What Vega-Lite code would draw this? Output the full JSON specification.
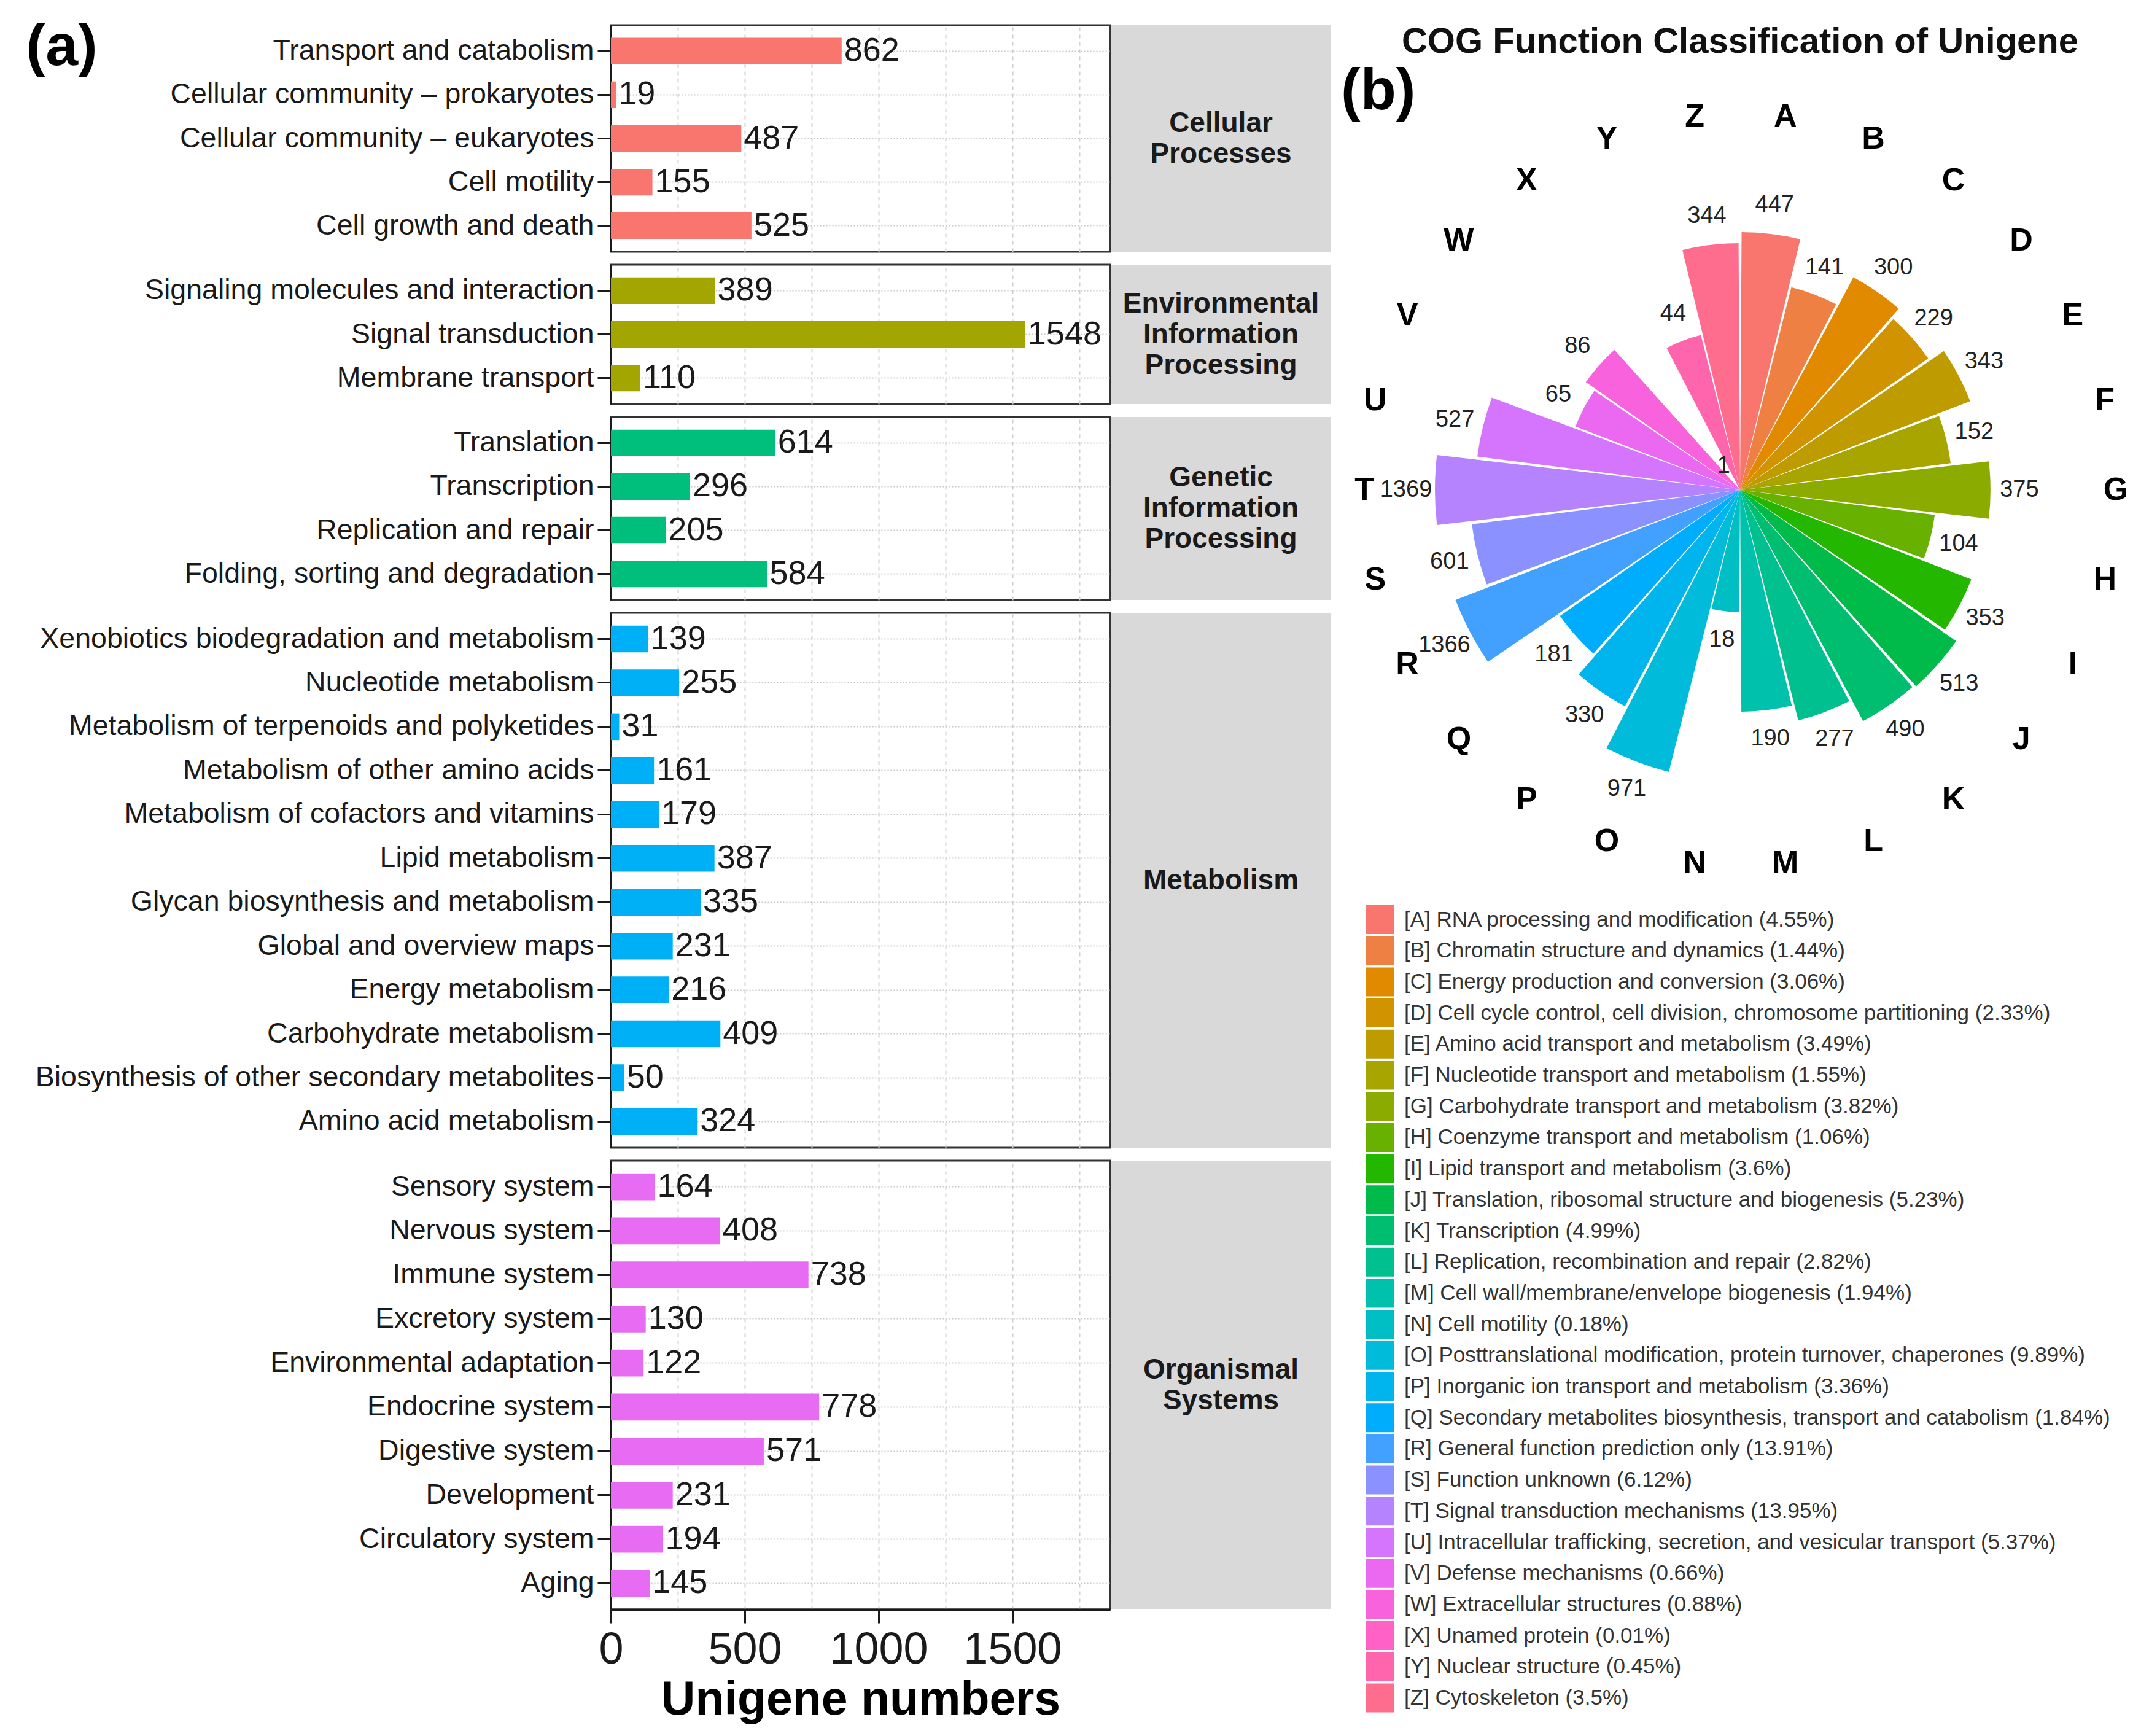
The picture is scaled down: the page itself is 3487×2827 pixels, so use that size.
{
  "$schema": "https://vega.github.io/schema/vega-lite/v6.json",
  "background": "white",
  "padding": {"left": 40, "top": 27, "right": 5, "bottom": 5},
  "config": {
    "font": "Liberation Sans",
    "view": {"stroke": "#333333", "strokeWidth": 3},
    "axisY": {"labelFontSize": 46.5, "labelColor": "#1a1a1a", "labelLimit": 1500, "labelPadding": 6, "tickSize": 22, "tickWidth": 3, "tickColor": "#1a1a1a", "domainColor": "#1a1a1a", "domainWidth": 3, "grid": true, "gridDash": [2, 3], "gridColor": "#c8c8c8", "gridWidth": 2, "bandPosition": 0.5},
    "axisX": {"grid": true, "gridDash": [6, 6], "gridColor": "#cfcfcf", "gridWidth": 2}
  },
  "datasets": {
    "kegg": [
      {"cat": "Cellular Processes", "path": "Transport and catabolism", "n": 862},
      {"cat": "Cellular Processes", "path": "Cellular community – prokaryotes", "n": 19},
      {"cat": "Cellular Processes", "path": "Cellular community – eukaryotes", "n": 487},
      {"cat": "Cellular Processes", "path": "Cell motility", "n": 155},
      {"cat": "Cellular Processes", "path": "Cell growth and death", "n": 525},
      {"cat": "Environmental Information Processing", "path": "Signaling molecules and interaction", "n": 389},
      {"cat": "Environmental Information Processing", "path": "Signal transduction", "n": 1548},
      {"cat": "Environmental Information Processing", "path": "Membrane transport", "n": 110},
      {"cat": "Genetic Information Processing", "path": "Translation", "n": 614},
      {"cat": "Genetic Information Processing", "path": "Transcription", "n": 296},
      {"cat": "Genetic Information Processing", "path": "Replication and repair", "n": 205},
      {"cat": "Genetic Information Processing", "path": "Folding, sorting and degradation", "n": 584},
      {"cat": "Metabolism", "path": "Xenobiotics biodegradation and metabolism", "n": 139},
      {"cat": "Metabolism", "path": "Nucleotide metabolism", "n": 255},
      {"cat": "Metabolism", "path": "Metabolism of terpenoids and polyketides", "n": 31},
      {"cat": "Metabolism", "path": "Metabolism of other amino acids", "n": 161},
      {"cat": "Metabolism", "path": "Metabolism of cofactors and vitamins", "n": 179},
      {"cat": "Metabolism", "path": "Lipid metabolism", "n": 387},
      {"cat": "Metabolism", "path": "Glycan biosynthesis and metabolism", "n": 335},
      {"cat": "Metabolism", "path": "Global and overview maps", "n": 231},
      {"cat": "Metabolism", "path": "Energy metabolism", "n": 216},
      {"cat": "Metabolism", "path": "Carbohydrate metabolism", "n": 409},
      {"cat": "Metabolism", "path": "Biosynthesis of other secondary metabolites", "n": 50},
      {"cat": "Metabolism", "path": "Amino acid metabolism", "n": 324},
      {"cat": "Organismal Systems", "path": "Sensory system", "n": 164},
      {"cat": "Organismal Systems", "path": "Nervous system", "n": 408},
      {"cat": "Organismal Systems", "path": "Immune system", "n": 738},
      {"cat": "Organismal Systems", "path": "Excretory system", "n": 130},
      {"cat": "Organismal Systems", "path": "Environmental adaptation", "n": 122},
      {"cat": "Organismal Systems", "path": "Endocrine system", "n": 778},
      {"cat": "Organismal Systems", "path": "Digestive system", "n": 571},
      {"cat": "Organismal Systems", "path": "Development", "n": 231},
      {"cat": "Organismal Systems", "path": "Circulatory system", "n": 194},
      {"cat": "Organismal Systems", "path": "Aging", "n": 145}
    ],
    "cog": [
      {"code": "A", "n": 447, "label": "[A] RNA processing and modification (4.55%)"},
      {"code": "B", "n": 141, "label": "[B] Chromatin structure and dynamics (1.44%)"},
      {"code": "C", "n": 300, "label": "[C] Energy production and conversion (3.06%)"},
      {"code": "D", "n": 229, "label": "[D] Cell cycle control, cell division, chromosome partitioning (2.33%)"},
      {"code": "E", "n": 343, "label": "[E] Amino acid transport and metabolism (3.49%)"},
      {"code": "F", "n": 152, "label": "[F] Nucleotide transport and metabolism (1.55%)"},
      {"code": "G", "n": 375, "label": "[G] Carbohydrate transport and metabolism (3.82%)"},
      {"code": "H", "n": 104, "label": "[H] Coenzyme transport and metabolism (1.06%)"},
      {"code": "I", "n": 353, "label": "[I] Lipid transport and metabolism (3.6%)"},
      {"code": "J", "n": 513, "label": "[J] Translation, ribosomal structure and biogenesis (5.23%)"},
      {"code": "K", "n": 490, "label": "[K] Transcription (4.99%)"},
      {"code": "L", "n": 277, "label": "[L] Replication, recombination and repair (2.82%)"},
      {"code": "M", "n": 190, "label": "[M] Cell wall/membrane/envelope biogenesis (1.94%)"},
      {"code": "N", "n": 18, "label": "[N] Cell motility (0.18%)"},
      {"code": "O", "n": 971, "label": "[O] Posttranslational modification, protein turnover, chaperones (9.89%)"},
      {"code": "P", "n": 330, "label": "[P] Inorganic ion transport and metabolism (3.36%)"},
      {"code": "Q", "n": 181, "label": "[Q] Secondary metabolites biosynthesis, transport and catabolism (1.84%)"},
      {"code": "R", "n": 1366, "label": "[R] General function prediction only (13.91%)"},
      {"code": "S", "n": 601, "label": "[S] Function unknown (6.12%)"},
      {"code": "T", "n": 1369, "label": "[T] Signal transduction mechanisms (13.95%)"},
      {"code": "U", "n": 527, "label": "[U] Intracellular trafficking, secretion, and vesicular transport (5.37%)"},
      {"code": "V", "n": 65, "label": "[V] Defense mechanisms (0.66%)"},
      {"code": "W", "n": 86, "label": "[W] Extracellular structures (0.88%)"},
      {"code": "X", "n": 1, "label": "[X] Unamed protein (0.01%)"},
      {"code": "Y", "n": 44, "label": "[Y] Nuclear structure (0.45%)"},
      {"code": "Z", "n": 344, "label": "[Z] Cytoskeleton (3.5%)"}
    ]
  },
  "spacing": 17,
  "hconcat": [
    {
      "columns": 2,
      "spacing": {"row": 17, "column": 0},
      "concat": [
        {
          "width": 813, "height": 369,
          "data": {"name": "kegg"},
          "transform": [{"filter": {"field": "cat", "equal": "Cellular Processes"}}],
          "encoding": {
            "y": {"field": "path", "type": "nominal", "sort": null, "scale": {"paddingInner": 0.39, "paddingOuter": 0.29},
                  "axis": {"title": "(a)", "titleAngle": 0, "titleX": -953, "titleY": -11, "titleAlign": "left", "titleBaseline": "top", "titleFontSize": 95, "titleFontWeight": "bold", "titleColor": "#000000"}},
            "x": {"field": "n", "type": "quantitative", "scale": {"domain": [0, 1865], "nice": false},
                  "axis": {"title": null, "labels": false, "ticks": false, "domain": false, "values": [250, 500, 750, 1000, 1250, 1500, 1750]}}
          },
          "layer": [
            {"mark": {"type": "bar", "color": "#F8766D"}},
            {"mark": {"type": "text", "align": "left", "baseline": "middle", "dx": 4, "fontSize": 54, "color": "#1a1a1a"}, "encoding": {"text": {"field": "n", "type": "quantitative", "format": "d"}}}
          ]
        },
        {
          "width": 357, "height": 369,
          "view": {"fill": "#d9d9d9", "stroke": null},
          "data": {"values": [{"t": "Cellular|Processes"}]},
          "mark": {"type": "text", "fontSize": 46, "fontWeight": "bold", "lineBreak": "|", "lineHeight": 50, "dy": -25, "color": "#1a1a1a"},
          "encoding": {"text": {"field": "t", "type": "nominal"}}
        },
        {
          "width": 813, "height": 227,
          "data": {"name": "kegg"},
          "transform": [{"filter": {"field": "cat", "equal": "Environmental Information Processing"}}],
          "encoding": {
            "y": {"field": "path", "type": "nominal", "sort": null, "scale": {"paddingInner": 0.39, "paddingOuter": 0.29}, "axis": {"title": null}},
            "x": {"field": "n", "type": "quantitative", "scale": {"domain": [0, 1865], "nice": false},
                  "axis": {"title": null, "labels": false, "ticks": false, "domain": false, "values": [250, 500, 750, 1000, 1250, 1500, 1750]}}
          },
          "layer": [
            {"mark": {"type": "bar", "color": "#A3A500"}},
            {"mark": {"type": "text", "align": "left", "baseline": "middle", "dx": 4, "fontSize": 54, "color": "#1a1a1a"}, "encoding": {"text": {"field": "n", "type": "quantitative", "format": "d"}}}
          ]
        },
        {
          "width": 357, "height": 227,
          "view": {"fill": "#d9d9d9", "stroke": null},
          "data": {"values": [{"t": "Environmental|Information|Processing"}]},
          "mark": {"type": "text", "fontSize": 46, "fontWeight": "bold", "lineBreak": "|", "lineHeight": 50, "dy": -50, "color": "#1a1a1a"},
          "encoding": {"text": {"field": "t", "type": "nominal"}}
        },
        {
          "width": 813, "height": 298,
          "data": {"name": "kegg"},
          "transform": [{"filter": {"field": "cat", "equal": "Genetic Information Processing"}}],
          "encoding": {
            "y": {"field": "path", "type": "nominal", "sort": null, "scale": {"paddingInner": 0.39, "paddingOuter": 0.29}, "axis": {"title": null}},
            "x": {"field": "n", "type": "quantitative", "scale": {"domain": [0, 1865], "nice": false},
                  "axis": {"title": null, "labels": false, "ticks": false, "domain": false, "values": [250, 500, 750, 1000, 1250, 1500, 1750]}}
          },
          "layer": [
            {"mark": {"type": "bar", "color": "#00BF7D"}},
            {"mark": {"type": "text", "align": "left", "baseline": "middle", "dx": 4, "fontSize": 54, "color": "#1a1a1a"}, "encoding": {"text": {"field": "n", "type": "quantitative", "format": "d"}}}
          ]
        },
        {
          "width": 357, "height": 298,
          "view": {"fill": "#d9d9d9", "stroke": null},
          "data": {"values": [{"t": "Genetic|Information|Processing"}]},
          "mark": {"type": "text", "fontSize": 46, "fontWeight": "bold", "lineBreak": "|", "lineHeight": 50, "dy": -50, "color": "#1a1a1a"},
          "encoding": {"text": {"field": "t", "type": "nominal"}}
        },
        {
          "width": 813, "height": 871,
          "data": {"name": "kegg"},
          "transform": [{"filter": {"field": "cat", "equal": "Metabolism"}}],
          "encoding": {
            "y": {"field": "path", "type": "nominal", "sort": null, "scale": {"paddingInner": 0.39, "paddingOuter": 0.29}, "axis": {"title": null}},
            "x": {"field": "n", "type": "quantitative", "scale": {"domain": [0, 1865], "nice": false},
                  "axis": {"title": null, "labels": false, "ticks": false, "domain": false, "values": [250, 500, 750, 1000, 1250, 1500, 1750]}}
          },
          "layer": [
            {"mark": {"type": "bar", "color": "#00B0F6"}},
            {"mark": {"type": "text", "align": "left", "baseline": "middle", "dx": 4, "fontSize": 54, "color": "#1a1a1a"}, "encoding": {"text": {"field": "n", "type": "quantitative", "format": "d"}}}
          ]
        },
        {
          "width": 357, "height": 871,
          "view": {"fill": "#d9d9d9", "stroke": null},
          "data": {"values": [{"t": "Metabolism"}]},
          "mark": {"type": "text", "fontSize": 46, "fontWeight": "bold", "lineBreak": "|", "lineHeight": 50, "color": "#1a1a1a"},
          "encoding": {"text": {"field": "t", "type": "nominal"}}
        },
        {
          "width": 813, "height": 731,
          "data": {"name": "kegg"},
          "transform": [{"filter": {"field": "cat", "equal": "Organismal Systems"}}],
          "encoding": {
            "y": {"field": "path", "type": "nominal", "sort": null, "scale": {"paddingInner": 0.39, "paddingOuter": 0.29}, "axis": {"title": null}},
            "x": {"field": "n", "type": "quantitative", "scale": {"domain": [0, 1865], "nice": false},
                  "axis": {"title": "Unigene numbers", "values": [0, 250, 500, 750, 1000, 1250, 1500, 1750], "format": "d",
                           "labelExpr": "datum.value % 500 == 0 ? datum.label : ''",
                           "tickOpacity": {"condition": {"test": "datum.value % 500 == 0", "value": 1}, "value": 0},
                           "labelFontSize": 72, "labelColor": "#1a1a1a", "labelFlush": false, "labelOverlap": false, "labelPadding": 8,
                           "tickSize": 22, "tickWidth": 3, "tickColor": "#1a1a1a", "domainColor": "#1a1a1a", "domainWidth": 4,
                           "titleFontSize": 77, "titleFontWeight": "bold", "titleColor": "#000000", "titlePadding": 8}}
          },
          "layer": [
            {"mark": {"type": "bar", "color": "#E76BF3"}},
            {"mark": {"type": "text", "align": "left", "baseline": "middle", "dx": 4, "fontSize": 54, "color": "#1a1a1a"}, "encoding": {"text": {"field": "n", "type": "quantitative", "format": "d"}}}
          ]
        },
        {
          "width": 357, "height": 731,
          "view": {"fill": "#d9d9d9", "stroke": null},
          "data": {"values": [{"t": "Organismal|Systems"}]},
          "mark": {"type": "text", "fontSize": 46, "fontWeight": "bold", "lineBreak": "|", "lineHeight": 50, "dy": -25, "color": "#1a1a1a"},
          "encoding": {"text": {"field": "t", "type": "nominal"}}
        }
      ]
    },
    {
      "title": {"text": "COG Function Classification of Unigene", "anchor": "middle", "fontSize": 58, "fontWeight": "bold", "color": "#111111", "offset": -57},
      "vconcat": [
        {
          "width": 1300, "height": 1514,
          "view": {"stroke": null},
          "title": {"text": "(b)", "anchor": "start", "frame": "group", "fontSize": 95, "fontWeight": "bold", "color": "#000000", "offset": -157},
          "data": {"name": "cog"},
          "transform": [
            {"joinaggregate": [{"op": "count", "as": "cnt"}]},
            {"stack": "cnt", "groupby": [], "sort": [{"field": "code", "order": "ascending"}], "as": ["s0", "s1"]}
          ],
          "resolve": {"scale": {"theta": "independent"}},
          "layer": [
            {
              "mark": {"type": "arc", "padAngle": 0.012},
              "encoding": {
                "theta": {"field": "s0", "type": "quantitative", "stack": null, "scale": {"domain": [0, 676], "range": [0, 6.283185]}},
                "theta2": {"field": "s1"},
                "radius": {"field": "n", "type": "quantitative", "scale": {"type": "log", "domain": [1, 1369], "range": [0, 497]}},
                "color": {"field": "label", "type": "nominal",
                  "scale": {"range": ["#F8766D", "#EE8043", "#E18A00", "#D19300", "#BE9C00", "#A8A400", "#8CAB00", "#68B100", "#24B700", "#00BB49", "#00BE70", "#00C090", "#00C1AB", "#00BFC4", "#00BBDA", "#00B5ED", "#00ACFC", "#42A0FF", "#8B92FF", "#B683FF", "#D575FE", "#EB69F0", "#F962DD", "#FF61C6", "#FF65AC", "#FF6D8E"]},
                  "legend": {"orient": "none", "legendX": 1229, "legendY": 1433, "title": null, "direction": "vertical", "symbolType": "square", "symbolSize": 2209, "symbolStrokeWidth": 0, "symbolOpacity": 1, "labelFontSize": 35, "labelLimit": 2000, "labelColor": "#333333", "labelOffset": 16, "rowPadding": 3.7, "padding": 0}}
              }
            },
            {
              "mark": {"type": "text", "radiusOffset": 47, "fontSize": 38, "color": "#222222"},
              "encoding": {
                "theta": {"field": "s0", "type": "quantitative", "stack": null, "scale": {"domain": [-13, 663], "range": [0, 6.283185]}},
                "radius": {"field": "n", "type": "quantitative"},
                "text": {"field": "n", "type": "quantitative", "format": "d"}
              }
            },
            {
              "mark": {"type": "text", "fontSize": 52, "fontWeight": "bold", "color": "#000000"},
              "encoding": {
                "theta": {"field": "s0", "type": "quantitative", "stack": null, "scale": {"domain": [-13, 663], "range": [0, 6.283185]}},
                "radius": {"value": 612},
                "text": {"field": "code", "type": "nominal"}
              }
            }
          ]
        }
      ]
    }
  ]
}
